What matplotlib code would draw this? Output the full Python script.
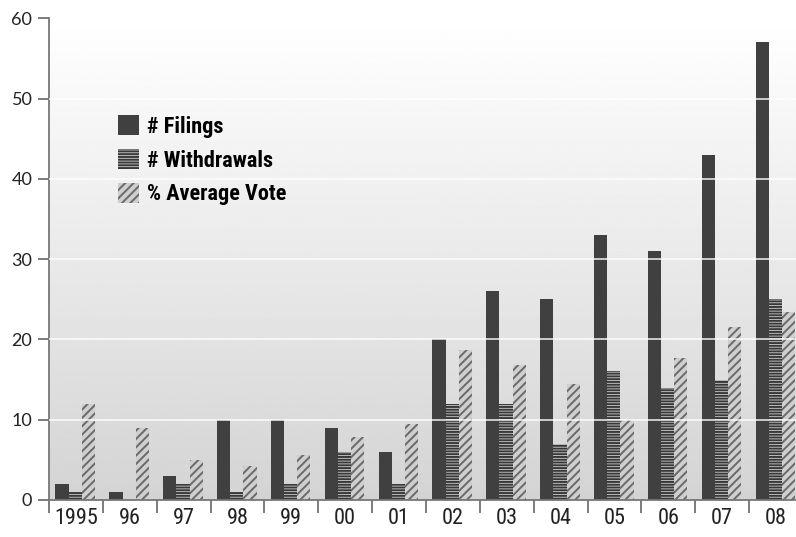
import numpy as np
import matplotlib
matplotlib.use("Agg")
import matplotlib.pyplot as plt
from matplotlib import font_manager as fm
from matplotlib.patches import Patch

# data
years = ["1995", "96", "97", "98", "99", "00", "01", "02", "03", "04", "05", "06", "07", "08"]
filings = [2, 1, 3, 10, 10, 9, 6, 20, 26, 25, 33, 31, 43, 57]
withdrawals = [1, 0, 2, 1, 2, 6, 2, 12, 12, 7, 16, 14, 15, 25]
avg_vote = [12, 9, 5, 4.2, 5.6, 7.9, 9.4, 18.7, 16.8, 14.4, 10, 17.7, 21.6, 23.4]


def pick(*names):
    have = {f.name for f in fm.fontManager.ttflist}
    for n in names:
        if n in have:
            return [n, "DejaVu Sans"]
    return ["DejaVu Sans"]


narrow = pick("Liberation Sans Narrow", "Roboto Condensed", "Roboto", "Liberation Sans")
yfont = pick("Lato", "Open Sans", "Noto Sans")

plt.rcParams["hatch.linewidth"] = 1.4

fig = plt.figure(figsize=(7.96, 5.37), dpi=100)
ax = fig.add_axes([0.0616, 0.069, 1 - 0.0616, 0.897])

x = np.arange(len(years))
w = 0.245
off = 0.12

# background gradient
grad = np.linspace(0.83, 1.0, 256).reshape(-1, 1)
ax.imshow(grad, extent=[0, 1, 0, 1], transform=ax.transAxes, cmap="gray",
          vmin=0, vmax=1, aspect="auto", origin="lower", zorder=0)

ax.bar(x + off, filings, width=w, align="edge", color="#404040", lw=0, zorder=2)
ax.bar(x + off + w, withdrawals, width=w, align="edge", facecolor="#cfcfcf",
       edgecolor="#383838", hatch="------", lw=0, zorder=2)
ax.bar(x + off + 2 * w, avg_vote, width=w, align="edge", facecolor="#cfcfcf",
       edgecolor="#6a6a6a", hatch="////", lw=0, zorder=2)

# white gridlines drawn over the bars
for yv in range(10, 60, 10):
    ax.axhline(yv, color="white", lw=1.2, alpha=0.85, zorder=3)

ax.set_xlim(0, 747 / 53.85)
ax.set_ylim(0, 60)

ax.set_xticks(x)
ax.set_xticklabels([])
ax.set_xticks(x + 0.5, minor=True)
ax.set_xticklabels(years, minor=True, fontsize=16, family=narrow, color="#222222")
ax.tick_params(axis="x", which="major", length=9, width=1.2, color="#666666", direction="out")
ax.tick_params(axis="x", which="minor", length=0, pad=6)

ax.set_yticks(range(0, 61, 10))
ax.set_yticklabels([str(v) for v in range(0, 61, 10)], fontsize=13,
                   family=yfont, color="#222222")
ax.tick_params(axis="y", length=8, width=1.2, color="#666666", direction="out", pad=4)

for s in ["top", "right"]:
    ax.spines[s].set_visible(False)
for s in ["left", "bottom"]:
    ax.spines[s].set_color("#777777")
    ax.spines[s].set_linewidth(1.3)

handles = [
    Patch(facecolor="#404040", lw=0, label="# Filings"),
    Patch(facecolor="#cfcfcf", edgecolor="#383838", hatch="------", lw=0, label="# Withdrawals"),
    Patch(facecolor="#cfcfcf", edgecolor="#6a6a6a", hatch="////", lw=0, label="% Average Vote"),
]
leg = ax.legend(handles=handles, loc="upper left", bbox_to_anchor=(0.066, 0.84),
                frameon=False, handlelength=0.95, handleheight=1.0, handletextpad=0.35,
                labelspacing=0.5,
                prop={"family": narrow, "weight": "bold", "size": 16})
leg.set_zorder(5)

fig.savefig("out.png", dpi=100)
